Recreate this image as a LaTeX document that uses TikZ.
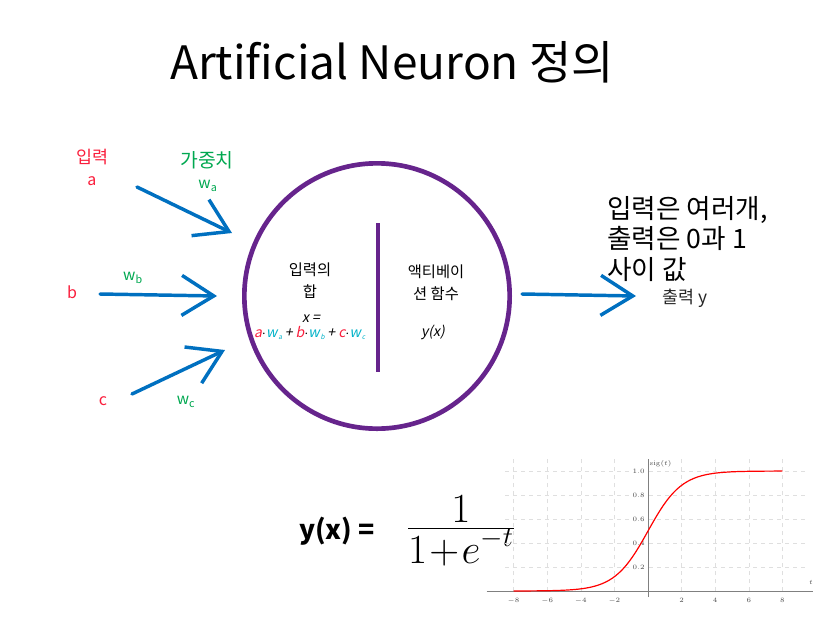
\documentclass[tikz,border=0pt]{standalone}
\usepackage[no-math]{fontspec}
\setmainfont{Noto Sans CJK KR}
\newfontfamily\slfont{Noto Sans CJK KR}[FakeSlant=0.2]
\usetikzlibrary{arrows.meta}
\definecolor{inred}{RGB}{250,30,60}
\definecolor{wgreen}{RGB}{0,168,80}
\definecolor{arrblue}{RGB}{0,112,192}
\definecolor{neupurple}{RGB}{102,36,140}
\definecolor{wcyan}{RGB}{0,178,200}
\tikzset{
  brush/.style={arrblue, line width=2.6pt, line cap=round, line join=round,
    -{Straight Barb[length=24pt,width=30pt]}},
  inlabel/.style={text=inred, font=\fontsize{12}{14}\selectfont},
  wlabel/.style={text=wgreen, font=\fontsize{11.5}{13}\selectfont},
  gridline/.style={gray!25, dashed, line width=0.3pt},
  ticklabel/.style={font=\fontsize{5.5}{6}\selectfont, text=black!70, inner sep=1pt}
}
\newcommand{\wsub}[1]{w\textsubscript{#1}}
\newcommand{\term}[2]{\textcolor{inred}{#1}\textcolor{black}{$\cdot$}\textcolor{wcyan}{w\kern0.8pt\textsubscript{\fontsize{5}{5}\selectfont #2}}\kern1.5pt}

\begin{document}
\begin{tikzpicture}[x=0.75pt, y=-0.75pt]
    \useasboundingbox (0,0) rectangle (825,633);
    % title
    \node (title) at (392,62) {\fontsize{34.5}{40}\selectfont Artificial Neuron 정의};
    % neuron body
    \node[draw=neupurple, line width=3.5pt, circle, minimum size=199pt] (neuron) at (377,296) {};
    \coordinate (split-top) at (378,223);
    \coordinate (split-bot) at (378,372);
    \draw[neupurple, line width=2.4pt] (split-top) -- (split-bot);
    % inside: weighted sum
    \node[font=\fontsize{11.5}{16.5}\selectfont, align=center] (sum) at (310,281) {입력의\\합};
    \node[font=\fontsize{10.5}{11.5}\slfont, align=center, inner sep=1pt] (formula) at (311,327)
      {x =\\\term{a}{a} + \term{b}{b} + \term{c}{c}};
    % inside: activation
    \node[font=\fontsize{11.5}{16.5}\selectfont, align=center] (act) at (436,283) {액티베이\\션 함수};
    \node[font=\fontsize{10.5}{12}\slfont] (yx) at (433,332) {y(x)};
    % inputs
    \node[inlabel, font=\fontsize{13}{15}\selectfont] (inp) at (92,157) {입력};
    \node[inlabel] (a) at (92,181) {a};
    \node[inlabel] (b) at (72,292) {b};
    \node[inlabel] (c) at (103,401) {c};
    % weights
    \node[wlabel, font=\fontsize{14.5}{16}\selectfont] (wt) at (207,160) {가중치};
    \node[wlabel] (wa) at (208,186) {\wsub{a}};
    \node[wlabel] (wb) at (133,278) {\wsub{b}};
    \node[wlabel] (wc) at (186,402) {\wsub{c}};
    % arrow ends
    \coordinate (a-tail) at (137,187);
    \coordinate (a-head) at (232,233);
    \coordinate (b-tail) at (100,294);
    \coordinate (b-head) at (217,296);
    \coordinate (c-tail) at (132,394);
    \coordinate (c-head) at (225,350);
    \coordinate (out-tail) at (522,294);
    \coordinate (out-head) at (636,296);
    \draw[brush] (a-tail) -- (a-head);
    \draw[brush] (b-tail) -- (b-head);
    \draw[brush] (c-tail) -- (c-head);
    \draw[brush] (out-tail) -- (out-head);
    % output
    \node[anchor=west, text=black!85, font=\fontsize{13}{15}\selectfont] (out) at (658,298) {출력 y};
    \node[anchor=north west, align=left, font=\fontsize{20}{23}\selectfont, inner sep=0pt] (note) at (607,196)
      {입력은 여러개,\\출력은 0과 1\\사이 값};
    % sigmoid formula
    \node[font=\bfseries\fontsize{20}{24}\selectfont] (yxeq) at (337,531) {y(x) =};
    \node[font=\fontsize{24}{28}\selectfont] (frac) at (461,531)
      {\scalebox{1.25}{$\frac{\displaystyle 1}{\displaystyle 1\mkern1mu{+}\mkern1mu e^{-t}}$}};
    % sigmoid graph
    \coordinate (origin) at (648,591);
    \begin{scope}[shift={(origin)}, x=12.6pt, y=90pt]
      % grid
      \foreach \x in {-8,-6,...,8}
        \draw[gridline] (\x,0) -- (\x,1.1);
      \foreach \y in {0.2,0.4,...,1.0}
        \draw[gridline] (-8.5,\y) -- (9.5,\y);
      % axis
      \draw[gray, line width=0.4pt] (-9.6,0) -- (9.8,0);
      \draw[gray, line width=0.4pt] (0,-0.05) -- (0,1.1);
      % ticks
      \foreach \x in {-8,-6,-4,-2,2,4,6,8}
        \node[ticklabel] at (\x,-0.08) {$\x$};
      \foreach \y in {0.2,0.4,0.6,0.8,1.0}
        \node[ticklabel, anchor=east, fill=white] at (-0.1,\y) {$\y$};
      \node[ticklabel, anchor=west] (sig) at (0,1.06) {$\mathrm{sig}(t)$};
      \node[ticklabel] (tvar) at (9.7,0.07) {$t$};
      % curve
      \draw[red, line width=0.9pt, domain=-8:8, samples=80] plot (\x,{1/(1+exp(-\x))});
    \end{scope}
\end{tikzpicture}
\end{document}
